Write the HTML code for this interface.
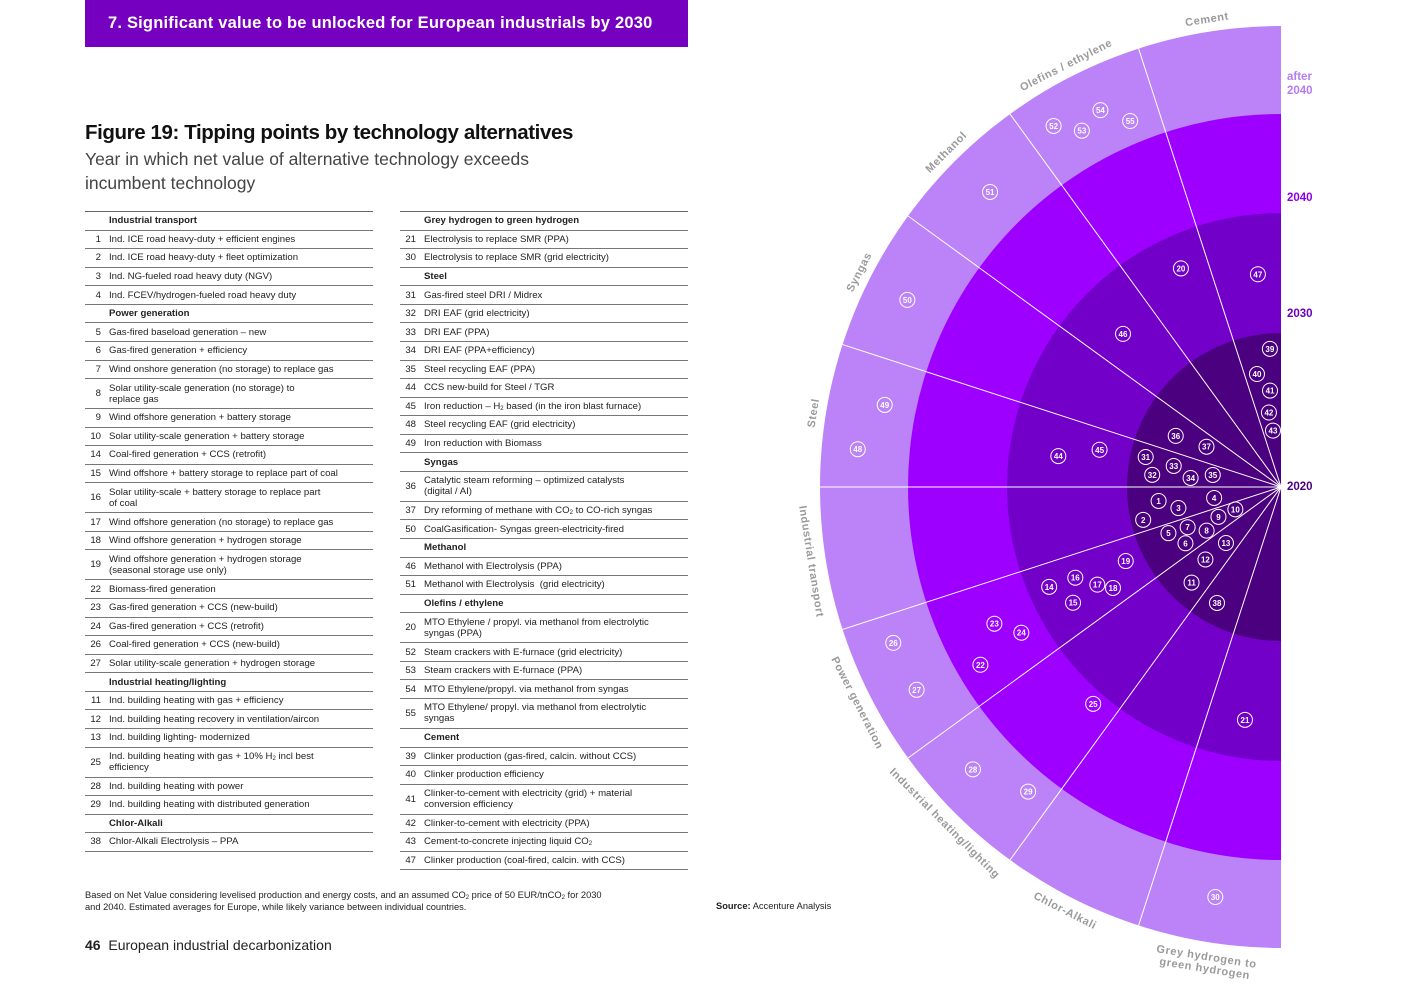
<!DOCTYPE html>
<html><head><meta charset="utf-8">
<style>
*{margin:0;padding:0;box-sizing:border-box}
body{width:1403px;height:992px;background:#fff;position:relative;overflow:hidden;font-family:"Liberation Sans",sans-serif;color:#222}
#hdr{position:absolute;left:85px;top:0;width:603px;height:47px;background:#7500C0;color:#fff;font-weight:bold;font-size:16.5px;padding:14px 0 0 23px;letter-spacing:0.2px}
#ttl{position:absolute;left:85px;top:121px;font-size:20.5px;font-weight:bold;letter-spacing:-0.4px;color:#111}
#sub{position:absolute;left:85px;top:147px;font-size:17.5px;line-height:24px;color:#444;width:520px}
.tbl{position:absolute;top:211px;width:288px;border-top:1px solid #666;font-size:9.6px;color:#222}
.row{border-bottom:1px solid #777;height:18.57px;display:flex;align-items:center}
.row.d{height:30px;align-items:center}
.num{width:24px;text-align:right;padding-right:8px;flex:none}
.txt{line-height:11px}
.row.h .txt{font-weight:bold}
sub{font-size:6px;vertical-align:-1px;line-height:0}
#foot{position:absolute;left:85px;top:889px;font-size:9.3px;line-height:12px;color:#222;width:600px}
#src{position:absolute;left:716px;top:901px;font-size:9.3px;color:#222}
#pg{position:absolute;left:85px;top:937px;font-size:14px;color:#222}
svg{position:absolute;left:0;top:0}
</style></head><body>
<div id="hdr">7. Significant value to be unlocked for European industrials by 2030</div>
<div id="ttl">Figure 19: Tipping points by technology alternatives</div>
<div id="sub">Year in which net value of alternative technology exceeds incumbent technology</div>

<div class="tbl" style="left:85px">
<div class="row h"><span class="num"></span><span class="txt">Industrial transport</span></div>
<div class="row"><span class="num">1</span><span class="txt">Ind. ICE road heavy-duty + efficient engines</span></div>
<div class="row"><span class="num">2</span><span class="txt">Ind. ICE road heavy-duty + fleet optimization</span></div>
<div class="row"><span class="num">3</span><span class="txt">Ind. NG-fueled road heavy duty (NGV)</span></div>
<div class="row"><span class="num">4</span><span class="txt">Ind. FCEV/hydrogen-fueled road heavy duty</span></div>
<div class="row h"><span class="num"></span><span class="txt">Power generation</span></div>
<div class="row"><span class="num">5</span><span class="txt">Gas-fired baseload generation – new</span></div>
<div class="row"><span class="num">6</span><span class="txt">Gas-fired generation + efficiency</span></div>
<div class="row"><span class="num">7</span><span class="txt">Wind onshore generation (no storage) to replace gas</span></div>
<div class="row d"><span class="num">8</span><span class="txt">Solar utility-scale generation (no storage) to<br>replace gas</span></div>
<div class="row"><span class="num">9</span><span class="txt">Wind offshore generation + battery storage</span></div>
<div class="row"><span class="num">10</span><span class="txt">Solar utility-scale generation + battery storage</span></div>
<div class="row"><span class="num">14</span><span class="txt">Coal-fired generation + CCS (retrofit)</span></div>
<div class="row"><span class="num">15</span><span class="txt">Wind offshore + battery storage to replace part of coal</span></div>
<div class="row d"><span class="num">16</span><span class="txt">Solar utility-scale + battery storage to replace part<br>of coal</span></div>
<div class="row"><span class="num">17</span><span class="txt">Wind offshore generation (no storage) to replace gas</span></div>
<div class="row"><span class="num">18</span><span class="txt">Wind offshore generation + hydrogen storage</span></div>
<div class="row d"><span class="num">19</span><span class="txt">Wind offshore generation + hydrogen storage<br>(seasonal storage use only)</span></div>
<div class="row"><span class="num">22</span><span class="txt">Biomass-fired generation</span></div>
<div class="row"><span class="num">23</span><span class="txt">Gas-fired generation + CCS (new-build)</span></div>
<div class="row"><span class="num">24</span><span class="txt">Gas-fired generation + CCS (retrofit)</span></div>
<div class="row"><span class="num">26</span><span class="txt">Coal-fired generation + CCS (new-build)</span></div>
<div class="row"><span class="num">27</span><span class="txt">Solar utility-scale generation + hydrogen storage</span></div>
<div class="row h"><span class="num"></span><span class="txt">Industrial heating/lighting</span></div>
<div class="row"><span class="num">11</span><span class="txt">Ind. building heating with gas + efficiency</span></div>
<div class="row"><span class="num">12</span><span class="txt">Ind. building heating recovery in ventilation/aircon</span></div>
<div class="row"><span class="num">13</span><span class="txt">Ind. building lighting- modernized</span></div>
<div class="row d"><span class="num">25</span><span class="txt">Ind. building heating with gas + 10% H<sub>2</sub> incl best<br>efficiency</span></div>
<div class="row"><span class="num">28</span><span class="txt">Ind. building heating with power</span></div>
<div class="row"><span class="num">29</span><span class="txt">Ind. building heating with distributed generation</span></div>
<div class="row h"><span class="num"></span><span class="txt">Chlor-Alkali</span></div>
<div class="row"><span class="num">38</span><span class="txt">Chlor-Alkali Electrolysis – PPA</span></div>
</div>

<div class="tbl" style="left:400px">
<div class="row h"><span class="num"></span><span class="txt">Grey hydrogen to green hydrogen</span></div>
<div class="row"><span class="num">21</span><span class="txt">Electrolysis to replace SMR (PPA)</span></div>
<div class="row"><span class="num">30</span><span class="txt">Electrolysis to replace SMR (grid electricity)</span></div>
<div class="row h"><span class="num"></span><span class="txt">Steel</span></div>
<div class="row"><span class="num">31</span><span class="txt">Gas-fired steel DRI / Midrex</span></div>
<div class="row"><span class="num">32</span><span class="txt">DRI EAF (grid electricity)</span></div>
<div class="row"><span class="num">33</span><span class="txt">DRI EAF (PPA)</span></div>
<div class="row"><span class="num">34</span><span class="txt">DRI EAF (PPA+efficiency)</span></div>
<div class="row"><span class="num">35</span><span class="txt">Steel recycling EAF (PPA)</span></div>
<div class="row"><span class="num">44</span><span class="txt">CCS new-build for Steel / TGR</span></div>
<div class="row"><span class="num">45</span><span class="txt">Iron reduction – H<sub>2</sub> based (in the iron blast furnace)</span></div>
<div class="row"><span class="num">48</span><span class="txt">Steel recycling EAF (grid electricity)</span></div>
<div class="row"><span class="num">49</span><span class="txt">Iron reduction with Biomass</span></div>
<div class="row h"><span class="num"></span><span class="txt">Syngas</span></div>
<div class="row d"><span class="num">36</span><span class="txt">Catalytic steam reforming – optimized catalysts<br>(digital / AI)</span></div>
<div class="row"><span class="num">37</span><span class="txt">Dry reforming of methane with CO<sub>2</sub> to CO-rich syngas</span></div>
<div class="row"><span class="num">50</span><span class="txt">CoalGasification- Syngas green-electricity-fired</span></div>
<div class="row h"><span class="num"></span><span class="txt">Methanol</span></div>
<div class="row"><span class="num">46</span><span class="txt">Methanol with Electrolysis (PPA)</span></div>
<div class="row"><span class="num">51</span><span class="txt">Methanol with Electrolysis &nbsp;(grid electricity)</span></div>
<div class="row h"><span class="num"></span><span class="txt">Olefins / ethylene</span></div>
<div class="row d"><span class="num">20</span><span class="txt">MTO Ethylene / propyl. via methanol from electrolytic<br>syngas (PPA)</span></div>
<div class="row"><span class="num">52</span><span class="txt">Steam crackers with E-furnace (grid electricity)</span></div>
<div class="row"><span class="num">53</span><span class="txt">Steam crackers with E-furnace (PPA)</span></div>
<div class="row"><span class="num">54</span><span class="txt">MTO Ethylene/propyl. via methanol from syngas</span></div>
<div class="row d"><span class="num">55</span><span class="txt">MTO Ethylene/ propyl. via methanol from electrolytic<br>syngas</span></div>
<div class="row h"><span class="num"></span><span class="txt">Cement</span></div>
<div class="row"><span class="num">39</span><span class="txt">Clinker production (gas-fired, calcin. without CCS)</span></div>
<div class="row"><span class="num">40</span><span class="txt">Clinker production efficiency</span></div>
<div class="row d"><span class="num">41</span><span class="txt">Clinker-to-cement with electricity (grid) + material<br>conversion efficiency</span></div>
<div class="row"><span class="num">42</span><span class="txt">Clinker-to-cement with electricity (PPA)</span></div>
<div class="row"><span class="num">43</span><span class="txt">Cement-to-concrete injecting liquid CO<sub>2</sub></span></div>
<div class="row"><span class="num">47</span><span class="txt">Clinker production (coal-fired, calcin. with CCS)</span></div>
</div>

<div id="foot">Based on Net Value considering levelised production and energy costs, and an assumed CO<sub>2</sub> price of 50 EUR/tnCO<sub>2</sub> for 2030<br>and 2040. Estimated averages for Europe, while likely variance between individual countries.</div>
<div id="src"><b>Source:</b> Accenture Analysis</div>
<div id="pg"><b>46</b>&nbsp;&nbsp;European industrial decarbonization</div>

<svg id="chart" width="1403" height="992"></svg>

<script>
// ---- data ----
const pointIds = [1,2,3,4,5,6,7,8,9,10,11,12,13,14,15,16,17,18,19,20,21,22,23,24,25,26,27,28,29,30,31,32,33,34,35,36,37,38,39,40,41,42,43,44,45,46,47,48,49,50,51,52,53,54,55];
const pointYears = [2028.0,2029.2,2026.8,2024.4,2027.9,2027.2,2026.6,2025.6,2024.5,2023.3,2028.5,2026.8,2025.1,2038.2,2037.0,2035.9,2034.5,2033.5,2031.5,2037.2,2036.8,2047.6,2044.4,2042.4,2041.3,2055.1,2055.0,2055.1,2052.6,2054.8,2029.0,2028.4,2027.1,2025.9,2024.5,2027.6,2025.5,2028.6,2029.0,2027.5,2026.3,2024.9,2023.7,2035.9,2032.6,2035.5,2035.0,2055.9,2053.6,2055.1,2054.7,2056.1,2054.0,2055.1,2052.6];
const pointAngles = [186.5,193.4,191.6,189.3,202.3,210.5,203.3,210.4,205.5,206.1,226.9,223.8,225.5,203.3,209.1,203.8,208.0,211.0,205.5,114.6,261.2,210.6,205.5,209.3,229.1,201.9,209.1,222.5,230.3,260.9,167.5,174.6,168.9,174.3,170.0,154.1,151.6,241.1,94.6,102.0,96.5,99.2,98.1,172.1,168.4,135.9,96.2,174.9,168.3,153.4,134.6,122.2,119.2,115.6,112.4];
const categories = ["Cement","Olefins / ethylene","Methanol","Syngas","Steel","Industrial transport","Power generation","Industrial heating/lighting","Chlor-Alkali","Grey hydrogen to|green hydrogen"];
const sectorStart = 90, sectorSpan = 18;
const bandYears = [2060,2050,2040,2030];
const bandColors = ["#BC82F8","#9D00FF","#7300C9","#4A007F"];
const yearLabels = ["after|2040","2040","2030","2020"];
const yearLabelYears = [2053.4,2041.5,2031.6,2020];
const yearLabelColors = ["#B77CF5","#8C00E6","#6C00BC","#4B0082"];

// ---- scales ----
const CX=1281, CY=487;
const rDom=[2020,2030,2040,2050,2060], rRange=[0,154,274,373,461];
function rScale(y){
  if(y<=rDom[0]) return 0;
  for(let i=1;i<rDom.length;i++){ if(y<=rDom[i]){const t=(y-rDom[i-1])/(rDom[i]-rDom[i-1]);return rRange[i-1]+t*(rRange[i]-rRange[i-1]);} }
  return rRange[rRange.length-1];
}
function polar(a,r){const t=a*Math.PI/180;return [CX+r*Math.cos(t), CY-r*Math.sin(t)];}

const NS="http://www.w3.org/2000/svg";
const svg=document.getElementById('chart');
function mk(tag,attrs,parent){const e=document.createElementNS(NS,tag);for(const k in attrs)e.setAttribute(k,attrs[k]);(parent||svg).appendChild(e);return e;}

const defs=mk('defs',{});
const cp=mk('clipPath',{id:'half'},defs);
mk('rect',{x:0,y:0,width:CX,height:992},cp);
const g=mk('g',{'clip-path':'url(#half)'});



bandYears.forEach((y,i)=>{
  const c=mk('circle',{cx:CX,cy:CY,r:rScale(y),fill:bandColors[i]},g);
  
  
});

const outerR=rScale(2060);
for(let k=1;k<categories.length;k++){
  const [x,y]=polar(sectorStart+k*sectorSpan,outerR);
  const l=mk('line',{x1:CX,y1:CY,x2:x,y2:y,stroke:'#fff','stroke-width':1},g);
  
  
}

categories.forEach((c,i)=>{
  const a=sectorStart+(i+0.5)*sectorSpan;
  const top=a<=180;
  const lines=c.split('|');
  lines.forEach((ln,j)=>{
    const r=top?473:(476+j*12);
    const [x,y]=polar(a,r);
    const rot=top?(90-a):(270-a);
    const t=mk('text',{x:x,y:y,transform:`rotate(${rot} ${x} ${y})`,'text-anchor':'middle','dominant-baseline':'central','font-size':11,'font-weight':'bold',fill:'#9a9a9a','letter-spacing':0.6,'font-family':'Liberation Sans, sans-serif'});
    t.textContent=ln;
    
    
  });
});

yearLabels.forEach((lab,i)=>{
  const y=CY-rScale(yearLabelYears[i]);
  const parts=lab.split('|');
  parts.forEach((p,j)=>{
    const t=mk('text',{x:1287,y:y+(j-(parts.length-1)/2)*14,'dominant-baseline':'central','font-size':11.5,'font-weight':'bold',fill:yearLabelColors[i],'font-family':'Liberation Sans, sans-serif'});
    t.textContent=p;
    
    
  });
});

pointIds.forEach((id,i)=>{
  const [x,y]=polar(pointAngles[i],rScale(pointYears[i]));
  const pg=mk('g',{});
  
  
  mk('circle',{cx:x,cy:y,r:7.5,fill:'none',stroke:'#fff','stroke-width':1},pg);
  const t=mk('text',{x:x,y:y+0.5,'text-anchor':'middle','dominant-baseline':'central','font-size':8,'font-weight':'bold',fill:'#fff','font-family':'Liberation Sans, sans-serif'},pg);
  t.textContent=id;
});
</script>
</body></html>
